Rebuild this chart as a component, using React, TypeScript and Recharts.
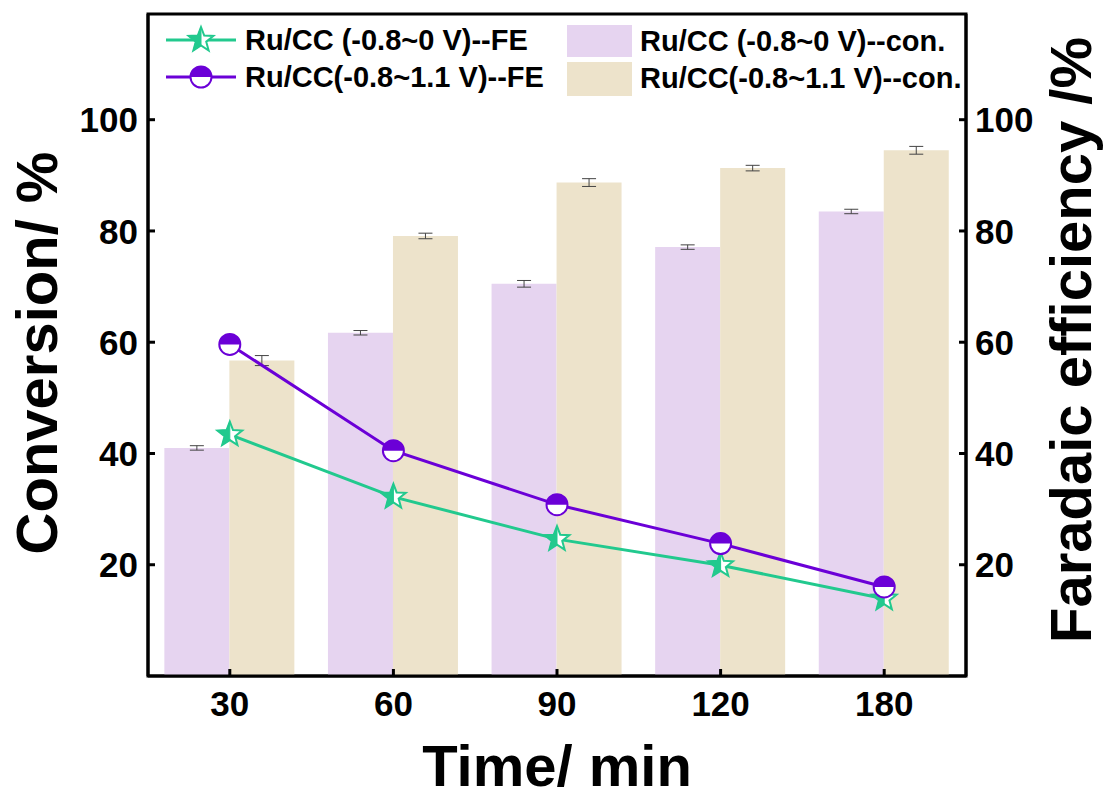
import React from 'react';
import {
  ComposedChart,
  Bar,
  Line,
  XAxis,
  YAxis,
  ErrorBar,
  Legend,
  ReferenceArea
} from 'recharts';

const timeLabels = ['30', '60', '90', '120', '180'];
const con0 = [41.0, 61.7, 70.5, 77.1, 83.5];
const con0Err = [0.4, 0.4, 0.6, 0.4, 0.4];
const con11 = [56.7, 79.1, 88.7, 91.3, 94.5];
const con11Err = [0.9, 0.5, 0.7, 0.5, 0.7];
const fe0 = [43.4, 32.2, 24.6, 19.9, 13.9];
const fe11 = [59.6, 40.5, 30.8, 23.8, 16.0];
const yTicks = [20, 40, 60, 80, 100];

const names = {
  fe0: 'Ru/CC (-0.8~0 V)--FE',
  fe11: 'Ru/CC(-0.8~1.1 V)--FE',
  con0: 'Ru/CC (-0.8~0 V)--con.',
  con11: 'Ru/CC(-0.8~1.1 V)--con.'
};

const GREEN = '#22C98E';
const PURPLE = '#6B00D7';
const BAR_PURPLE = '#E6D4F0';
const BAR_BEIGE = '#EDE3CB';
const FONT = '"Liberation Sans", Arial, sans-serif';

const data = timeLabels.map((t, i) => ({
  time: t,
  con0: con0[i],
  con0Err: con0Err[i],
  con11: con11[i],
  con11Err: con11Err[i],
  fe0: fe0[i],
  fe11: fe11[i]
}));

function starPoints(cx: number, cy: number, R: number, r: number) {
  const pts: Array<[number, number]> = [];
  for (let k = 0; k < 10; k++) {
    const a = (-90 + k * 36) * Math.PI / 180;
    const rad = k % 2 === 0 ? R : r;
    pts.push([cx + rad * Math.cos(a), cy + rad * Math.sin(a)]);
  }
  return pts;
}

function StarMark({ cx, cy }: { cx: number; cy: number }) {
  const pts = starPoints(cx, cy, 13, 5.5);
  const full = pts.map(p => p.join(',')).join(' ');
  // left half of the star: top vertex round the left side to the bottom inner vertex
  const left = [pts[0], pts[9], pts[8], pts[7], pts[6], pts[5]].map(p => p.join(',')).join(' ');
  return (
    <g>
      <polygon points={full} fill="#fff" stroke={GREEN} strokeWidth={2} />
      <polygon points={left} fill={GREEN} stroke={GREEN} strokeWidth={1} />
    </g>
  );
}

function HalfCircle({ cx, cy }: { cx: number; cy: number }) {
  const r = 10.5;
  return (
    <g>
      <circle cx={cx} cy={cy} r={r} fill="#fff" stroke={PURPLE} strokeWidth={2} />
      <path d={`M${cx - r},${cy} A${r},${r} 0 0 1 ${cx + r},${cy} Z`} fill={PURPLE} />
    </g>
  );
}

const StarDot = (props: any) => {
  if (props.cx == null) return null;
  return <StarMark key={props.index} cx={props.cx} cy={props.cy} />;
};

const CircleDot = (props: any) => {
  if (props.cx == null) return null;
  return <HalfCircle key={props.index} cx={props.cx} cy={props.cy} />;
};

const tickFont = { fontFamily: FONT, fontWeight: 'bold' as const, fontSize: 35, fill: '#000' };

const LeftTick = ({ x, y, payload }: any) => (
  <g>
    <line x1={x} y1={y} x2={x + 7} y2={y} stroke="#000" strokeWidth={3} />
    <text x={x - 10} y={y} dy="0.36em" textAnchor="end" style={tickFont}>
      {payload.value}
    </text>
  </g>
);

const RightTick = ({ x, y, payload }: any) => (
  <g>
    <line x1={x} y1={y} x2={x - 7} y2={y} stroke="#000" strokeWidth={3} />
    <text x={x + 9} y={y} dy="0.36em" textAnchor="start" style={tickFont}>
      {payload.value}
    </text>
  </g>
);

const BottomTick = ({ x, y, payload }: any) => (
  <g>
    <line x1={x} y1={y} x2={x} y2={y - 7} stroke="#000" strokeWidth={3} />
    <text x={x} y={y + 40} textAnchor="middle" style={tickFont}>
      {payload.value}
    </text>
  </g>
);

const titleStyle = { fontFamily: FONT, fontWeight: 'bold' as const, fontSize: 58, fill: '#000' };

const LeftTitle = ({ viewBox }: any) => {
  const x = 57;
  const y = viewBox.y + viewBox.height / 2 + 8;
  return (
    <text x={x} y={y} transform={`rotate(-90 ${x} ${y})`} textAnchor="middle" style={titleStyle}>
      Conversion/ %
    </text>
  );
};

const RightTitle = ({ viewBox }: any) => {
  const x = 1091;
  const y = viewBox.y + viewBox.height / 2 - 5;
  return (
    <text x={x} y={y} transform={`rotate(-90 ${x} ${y})`} textAnchor="middle" style={titleStyle}>
      Faradaic efficiency /%
    </text>
  );
};

const BottomTitle = ({ viewBox }: any) => (
  <text x={viewBox.x + viewBox.width / 2} y={786} textAnchor="middle" style={titleStyle}>
    Time/ min
  </text>
);

const legendText: React.CSSProperties = {
  position: 'absolute',
  fontFamily: FONT,
  fontWeight: 'bold',
  fontSize: 29,
  lineHeight: '32px',
  color: '#000',
  whiteSpace: 'nowrap'
};

function LegendBox() {
  const lineRows = [
    { key: 'fe0', color: GREEN, y: 40 },
    { key: 'fe11', color: PURPLE, y: 77 }
  ];
  const barRows = [
    { key: 'con0', color: BAR_PURPLE, top: 25, h: 32, y: 41 },
    { key: 'con11', color: BAR_BEIGE, top: 62, h: 34, y: 78 }
  ];
  return (
    <div style={{ position: 'relative', width: 1107, height: 0 }}>
      {lineRows.map(r => (
        <React.Fragment key={r.key}>
          <svg style={{ position: 'absolute', left: 160, top: r.y - 20 }} width={84} height={40}>
            <line x1={6} y1={20} x2={76} y2={20} stroke={r.color} strokeWidth={3} />
            {r.key === 'fe0' ? <StarMark cx={41} cy={20} /> : <HalfCircle cx={41} cy={20} />}
          </svg>
          <div style={{ ...legendText, left: 245, top: r.y - 16 }}>{(names as any)[r.key]}</div>
        </React.Fragment>
      ))}
      {barRows.map(r => (
        <React.Fragment key={r.key}>
          <div style={{ position: 'absolute', left: 567, top: r.top, width: 65, height: r.h, background: r.color }} />
          <div style={{ ...legendText, left: 640, top: r.y - 16 }}>{(names as any)[r.key]}</div>
        </React.Fragment>
      ))}
    </div>
  );
}

export default function App() {
  return (
    <div style={{ position: 'absolute', left: 0, top: 0, width: 1107, height: 800, background: '#fff' }}>
      <ComposedChart
        width={1107}
        height={800}
        data={data}
        margin={{ top: 14, right: 0, left: 8, bottom: 0 }}
        barCategoryGap="10%"
        barGap={0}
      >
        <XAxis
          dataKey="time"
          height={124}
          axisLine={{ stroke: '#000', strokeWidth: 3 }}
          tickLine={false}
          tickSize={0}
          tickMargin={0}
          tick={<BottomTick />}
          label={<BottomTitle />}
          interval={0}
        />
        <YAxis
          yAxisId="left"
          width={140}
          domain={[0, 119]}
          ticks={yTicks}
          axisLine={{ stroke: '#000', strokeWidth: 3 }}
          tickLine={false}
          tickSize={0}
          tickMargin={0}
          tick={<LeftTick />}
          label={<LeftTitle />}
        />
        <YAxis
          yAxisId="right"
          orientation="right"
          width={141}
          domain={[0, 119]}
          ticks={yTicks}
          axisLine={{ stroke: '#000', strokeWidth: 3 }}
          tickLine={false}
          tickSize={0}
          tickMargin={0}
          tick={<RightTick />}
          label={<RightTitle />}
        />
        <Bar yAxisId="left" dataKey="con0" name={names.con0} fill={BAR_PURPLE} isAnimationActive={false}>
          <ErrorBar dataKey="con0Err" width={7} stroke="#444" strokeWidth={1} />
        </Bar>
        <Bar yAxisId="left" dataKey="con11" name={names.con11} fill={BAR_BEIGE} isAnimationActive={false}>
          <ErrorBar dataKey="con11Err" width={7} stroke="#444" strokeWidth={1} />
        </Bar>
        <Line
          yAxisId="right"
          dataKey="fe0"
          name={names.fe0}
          stroke={GREEN}
          strokeWidth={3}
          dot={<StarDot />}
          activeDot={false}
          isAnimationActive={false}
        />
        <Line
          yAxisId="right"
          dataKey="fe11"
          name={names.fe11}
          stroke={PURPLE}
          strokeWidth={3}
          dot={<CircleDot />}
          activeDot={false}
          isAnimationActive={false}
        />
        <ReferenceArea yAxisId="left" y1={0} y2={119} fill="none" stroke="#000" strokeWidth={3} />
        <Legend
          content={() => <LegendBox />}
          wrapperStyle={{ position: 'absolute', left: 0, top: 0, width: 1107, height: 0 }}
        />
      </ComposedChart>
    </div>
  );
}
